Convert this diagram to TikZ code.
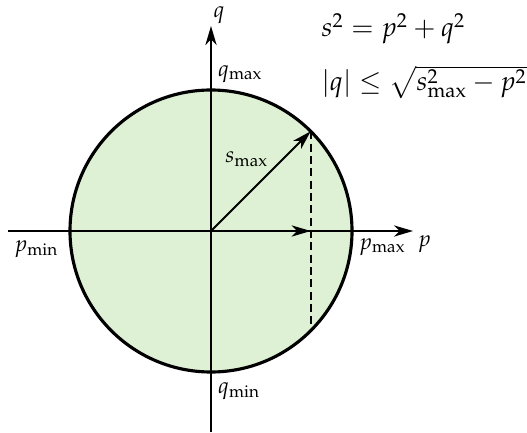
\documentclass[tikz,border=0pt]{standalone}
\usepackage{mathpazo}
\usetikzlibrary{arrows.meta}
\definecolor{fillgreen}{RGB}{222,241,212}
\begin{document}
\begin{tikzpicture}[x=0.446pt,y=-0.446pt,
  axis/.style={thick,-{Stealth[length=8.5pt,width=5pt,inset=2.5pt]}},
  lbl/.style={inner sep=3pt},
  eqn/.style={anchor=base west,inner sep=0pt,font=\large}]
\useasboundingbox (0,0) rectangle (527,432);
\coordinate (O) at (211,231);
\coordinate (Pmin) at (70,231);
\coordinate (Pmax) at (352,231);
\coordinate (Qmax) at (211,90);
\coordinate (Qmin) at (211,372);
\coordinate (S) at (310.7,131.3);
\coordinate (Sx) at (310.7,231);
\coordinate (Sb) at (310.7,330.7);
\coordinate (Xs) at (8,231);
\coordinate (Xe) at (413,231);
\coordinate (Ys) at (211,432);
\coordinate (Ye) at (211,26);
\draw[line width=1.4pt, fill=fillgreen] (O) circle[radius=141];
\draw[axis] (Xs) -- (Xe);
\draw[axis] (Ys) -- (Ye);
\draw[thick,dash pattern=on 3.6pt off 1.9pt] (S) -- (Sb);
\draw[axis] (O) -- (S);
\draw[axis] (O) -- (Sx);
\node[below right,inner sep=2pt] (plab) at (Xe) {$p$};
\node[above right,inner sep=1pt] (qlab) at (Ye) {$q$};
\node[below right,lbl] (pmaxlab) at (Pmax) {$p_{\max}$};
\node[below left,lbl,xshift=-2pt,yshift=-1pt] (pminlab) at (Pmin) {$p_{\min}$};
\node[above right,lbl] (qmaxlab) at (Qmax) {$q_{\max}$};
\node[below right,lbl,yshift=-1.5pt] (qminlab) at (Qmin) {$q_{\min}$};
\node[anchor=base west,inner sep=0pt] (slab) at (225,163) {$s_{\max}$};
\node[eqn] (eq1) at (321,37) {$s^2 = p^2 + q^2$};
\node[eqn] (eq2) at (321,91) {$|q| \leq \sqrt{s_{\max}^2 - p^2}$};
\end{tikzpicture}
\end{document}
